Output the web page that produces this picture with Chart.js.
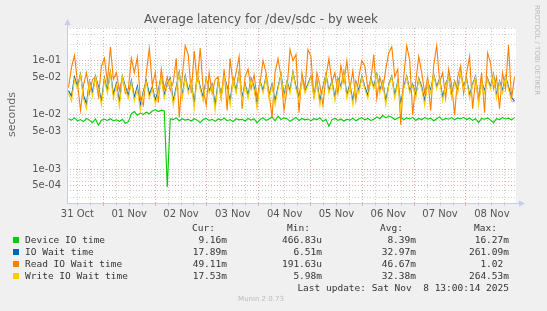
<!DOCTYPE html>
<html>
<head>
<meta charset="utf-8">
<script src="https://cdn.jsdelivr.net/npm/chart.js@4.4.0/dist/chart.umd.min.js"></script>
<style>
html, body { margin: 0; padding: 0; background: #f0f0f0; }
#wrap { position: relative; width: 547px; height: 311px; overflow: hidden; font-family: 'DejaVu Sans', sans-serif; }
#chart { position: absolute; left: 0; top: 0; }
.t { position: absolute; white-space: pre; }
.mono { font-family: 'DejaVu Sans Mono', monospace; font-size: 9.5px; color: #333; }
.sq { position: absolute; width: 6px; height: 6px; }
</style>
</head>
<body>
<div id="wrap">
  <canvas id="chart" width="547" height="311"></canvas>
  <div class="t" id="title" style="left:144px;top:12px;font-size:12px;color:#555;">Average latency for /dev/sdc - by week</div>
  <div class="t" style="left:5px;top:137px;font-size:11px;font-weight:normal;color:#666;transform-origin:0 0;transform:rotate(-90deg);">seconds</div>
  <div class="t" style="left:537px;top:5px;font-size:7px;color:#bbb;transform-origin:0 0;transform:translate(4px,0) rotate(90deg);">RRDTOOL / TOBI OETIKER</div>
  <div id="legend"></div>
  <div class="t" style="left:261px;top:295px;font-size:7px;color:#bbb;transform:translateX(-50%);">Munin 2.0.73</div>
</div>
<script>
// Day labels on the x axis
const dayLabels = ['31 Oct', '01 Nov', '02 Nov', '03 Nov', '04 Nov', '05 Nov', '06 Nov', '07 Nov', '08 Nov'];

// Series (seconds), one sample every ~83 minutes across the week
const deviceIO = [
    0.0085, 0.008, 0.0088, 0.0078, 0.0082, 0.0075, 0.0086, 0.008, 0.0072, 0.0084,
    0.0065, 0.008, 0.0083, 0.0079, 0.0085, 0.0078, 0.0081, 0.0076, 0.0083, 0.007,
    0.0075, 0.0105, 0.0115, 0.0098, 0.0108, 0.0102, 0.0112, 0.0105, 0.0118, 0.0125,
    0.0115, 0.0122, 0.0118, 0.00047, 0.0085, 0.0082, 0.0088, 0.0078, 0.0085, 0.008,
    0.0083, 0.0077, 0.0085, 0.008, 0.0072, 0.0082, 0.0086, 0.0079, 0.0083, 0.0076,
    0.0084, 0.008, 0.0087, 0.0078, 0.0082, 0.0075, 0.0085, 0.0081, 0.0083, 0.0077,
    0.0086, 0.008, 0.0085, 0.0071, 0.0082, 0.0088, 0.0079, 0.0084, 0.0092, 0.0078,
    0.0095, 0.0082, 0.0088, 0.0085, 0.0076, 0.0083, 0.009, 0.0079, 0.0086, 0.0081,
    0.0084, 0.0078, 0.0085, 0.0082, 0.0088, 0.0076, 0.0083, 0.0062, 0.0081, 0.0086,
    0.0079, 0.0084, 0.0077, 0.0083, 0.008, 0.0087, 0.0078, 0.0084, 0.0089, 0.0081,
    0.0086, 0.0079, 0.0083, 0.0092, 0.0085, 0.0098, 0.0088, 0.0095, 0.009, 0.0082,
    0.0087, 0.0093, 0.0081, 0.0088, 0.0084, 0.009, 0.0079, 0.0086, 0.0082, 0.0089,
    0.0083, 0.0087, 0.0078, 0.0085, 0.0092, 0.008, 0.0086, 0.0083, 0.0089, 0.0081,
    0.0088, 0.0084, 0.009, 0.0082, 0.0087, 0.0079, 0.0085, 0.0072, 0.0086, 0.0083,
    0.0088, 0.008, 0.0072, 0.0085, 0.0082, 0.0089, 0.0084, 0.0087, 0.0081, 0.0089
];
const ioWait = [
    0.028, 0.022, 0.05, 0.033, 0.057, 0.023, 0.016, 0.042, 0.026, 0.052,
    0.033, 0.018, 0.048, 0.028, 0.062, 0.024, 0.038, 0.017, 0.052, 0.033,
    0.023, 0.043, 0.021, 0.034, 0.015, 0.027, 0.043, 0.024, 0.033, 0.019,
    0.028, 0.053, 0.023, 0.037, 0.048, 0.018, 0.033, 0.062, 0.023, 0.053,
    0.028, 0.042, 0.016, 0.057, 0.033, 0.021, 0.047, 0.028, 0.037, 0.015,
    0.042, 0.023, 0.052, 0.033, 0.018, 0.047, 0.028, 0.062, 0.021, 0.037,
    0.023, 0.047, 0.033, 0.016, 0.042, 0.028, 0.052, 0.023, 0.037, 0.018,
    0.033, 0.057, 0.023, 0.042, 0.028, 0.062, 0.033, 0.021, 0.047, 0.028,
    0.037, 0.052, 0.023, 0.042, 0.018, 0.033, 0.057, 0.028, 0.042, 0.021,
    0.047, 0.033, 0.062, 0.023, 0.037, 0.018, 0.042, 0.028, 0.052, 0.033,
    0.023, 0.047, 0.033, 0.057, 0.028, 0.042, 0.018, 0.037, 0.052, 0.023,
    0.042, 0.016, 0.033, 0.052, 0.028, 0.037, 0.023, 0.047, 0.033, 0.018,
    0.042, 0.028, 0.057, 0.033, 0.047, 0.021, 0.037, 0.052, 0.023, 0.042,
    0.028, 0.062, 0.033, 0.047, 0.023, 0.037, 0.052, 0.018, 0.042, 0.028,
    0.047, 0.033, 0.057, 0.023, 0.042, 0.028, 0.052, 0.033, 0.021, 0.018
];
const readWait = [
    0.032, 0.075, 0.125, 0.04, 0.012, 0.035, 0.06, 0.025, 0.045, 0.05,
    0.022, 0.078, 0.11, 0.04, 0.18, 0.045, 0.06, 0.028, 0.05, 0.025,
    0.03, 0.11, 0.06, 0.115, 0.02, 0.015, 0.06, 0.17, 0.035, 0.06,
    0.017, 0.07, 0.03, 0.05, 0.028, 0.04, 0.11, 0.009, 0.05, 0.19,
    0.13, 0.025, 0.15, 0.04, 0.17, 0.03, 0.015, 0.06, 0.025, 0.045,
    0.05, 0.02, 0.07, 0.012, 0.11, 0.035, 0.06, 0.12, 0.013, 0.05,
    0.07, 0.03, 0.055, 0.02, 0.04, 0.1, 0.06, 0.025, 0.009, 0.06,
    0.11, 0.05, 0.012, 0.03, 0.16, 0.1, 0.13, 0.011, 0.06, 0.03,
    0.16, 0.12, 0.02, 0.06, 0.035, 0.015, 0.05, 0.11, 0.04, 0.06,
    0.025, 0.08, 0.04, 0.1, 0.03, 0.065, 0.018, 0.05, 0.1, 0.08,
    0.03, 0.045, 0.13, 0.02, 0.05, 0.03, 0.07, 0.14, 0.18, 0.05,
    0.07, 0.0065, 0.05, 0.19, 0.1, 0.01, 0.04, 0.12, 0.06, 0.025,
    0.05, 0.012, 0.08, 0.19, 0.04, 0.06, 0.02, 0.07, 0.035, 0.01,
    0.05, 0.08, 0.025, 0.06, 0.12, 0.013, 0.045, 0.02, 0.06, 0.011,
    0.14, 0.09, 0.03, 0.05, 0.013, 0.06, 0.03, 0.195, 0.02, 0.049
];
const writeWait = [
    0.025, 0.018, 0.045, 0.03, 0.055, 0.02, 0.013, 0.04, 0.022, 0.05,
    0.03, 0.015, 0.045, 0.025, 0.06, 0.02, 0.035, 0.014, 0.05, 0.03,
    0.02, 0.04, 0.018, 0.03, 0.012, 0.025, 0.04, 0.02, 0.03, 0.016,
    0.025, 0.05, 0.02, 0.035, 0.045, 0.015, 0.03, 0.06, 0.02, 0.05,
    0.025, 0.04, 0.013, 0.055, 0.03, 0.018, 0.045, 0.025, 0.035, 0.012,
    0.04, 0.02, 0.05, 0.03, 0.015, 0.045, 0.025, 0.06, 0.018, 0.035,
    0.02, 0.045, 0.03, 0.013, 0.04, 0.025, 0.05, 0.02, 0.035, 0.015,
    0.03, 0.055, 0.02, 0.04, 0.025, 0.06, 0.03, 0.018, 0.045, 0.025,
    0.035, 0.05, 0.02, 0.04, 0.015, 0.03, 0.055, 0.025, 0.04, 0.018,
    0.045, 0.03, 0.06, 0.02, 0.035, 0.015, 0.04, 0.025, 0.05, 0.03,
    0.02, 0.045, 0.03, 0.055, 0.025, 0.04, 0.015, 0.035, 0.05, 0.02,
    0.04, 0.013, 0.03, 0.05, 0.025, 0.035, 0.02, 0.045, 0.03, 0.015,
    0.04, 0.025, 0.055, 0.03, 0.045, 0.018, 0.035, 0.05, 0.02, 0.04,
    0.025, 0.06, 0.03, 0.045, 0.02, 0.035, 0.05, 0.015, 0.04, 0.025,
    0.045, 0.03, 0.055, 0.02, 0.04, 0.025, 0.05, 0.03, 0.018, 0.0175
];

// Legend table
const legendNames = ['Device IO time', 'IO Wait time', 'Read IO Wait time', 'Write IO Wait time'];
const legendColors = ['#00cc00', '#0066b3', '#ff8000', '#ffcc00'];
const curVals = ['9.16m', '17.89m', '49.11m', '17.53m'];
const minVals = ['466.83u', '6.51m', '191.63u', '5.98m'];
const avgVals = ['8.39m', '32.97m', '46.67m', '32.38m'];
const maxVals = ['16.27m', '261.09m', '1.02 ', '264.53m'];

// Time axis in days from the left edge
const spanDays = 8.666;
const firstMidnight = 0.7006;
const stepDays = spanDays / deviceIO.length;

function toPoints(arr) {
    return arr.map((v, i) => ({ x: (i + 0.5) * stepDays, y: v }));
}

const gridGray = '#d2d2d2';
const gridRed = '#eaa8a8';
const axisColor = '#c8cce8';

function expLabel(v) {
    return v.toExponential(0).replace(/e([+-])(\d)$/, 'e$10$2');
}

const axisArrows = {
    id: 'axisArrows',
    afterDraw(chart) {
        const { ctx, chartArea: a } = chart;
        ctx.save();
        ctx.strokeStyle = axisColor;
        ctx.fillStyle = axisColor;
        ctx.lineWidth = 1;
        ctx.beginPath();
        ctx.moveTo(a.left + 0.5, a.bottom + 0.5);
        ctx.lineTo(a.left + 0.5, a.top - 4);
        ctx.moveTo(a.left, a.bottom + 0.5);
        ctx.lineTo(a.right + 4, a.bottom + 0.5);
        ctx.stroke();
        ctx.beginPath();
        ctx.moveTo(a.left + 0.5, a.top - 9);
        ctx.lineTo(a.left - 2.5, a.top - 3);
        ctx.lineTo(a.left + 3.5, a.top - 3);
        ctx.closePath();
        ctx.fill();
        ctx.beginPath();
        ctx.moveTo(a.right + 9, a.bottom + 0.5);
        ctx.lineTo(a.right + 3, a.bottom - 2.5);
        ctx.lineTo(a.right + 3, a.bottom + 3.5);
        ctx.closePath();
        ctx.fill();
        ctx.restore();
    }
};

const plotBg = {
    id: 'plotBg',
    beforeDraw(chart) {
        const { ctx, chartArea: a } = chart;
        ctx.save();
        ctx.fillStyle = '#ffffff';
        ctx.fillRect(a.left, a.top, a.right - a.left, a.bottom - a.top);
        ctx.restore();
    }
};

const ctx = document.getElementById('chart').getContext('2d');
new Chart(ctx, {
    type: 'line',
    data: {
        datasets: [
            { label: legendNames[0], data: toPoints(deviceIO), borderColor: legendColors[0], order: 4 },
            { label: legendNames[1], data: toPoints(ioWait), borderColor: legendColors[1], order: 3 },
            { label: legendNames[2], data: toPoints(readWait), borderColor: legendColors[2], order: 2 },
            { label: legendNames[3], data: toPoints(writeWait), borderColor: legendColors[3], order: 1 }
        ]
    },
    options: {
        responsive: false,
        animation: false,
        events: [],
        elements: {
            line: { borderWidth: 1.1, tension: 0 },
            point: { radius: 0 }
        },
        layout: { padding: { top: 28, right: 31, bottom: 0, left: 0 } },
        plugins: {
            legend: { display: false },
            tooltip: { enabled: false }
        },
        scales: {
            x: {
                type: 'linear',
                min: 0,
                max: spanDays,
                afterBuildTicks(scale) {
                    const ticks = [];
                    for (let k = 0; k < 40; k++) {
                        const v = firstMidnight - 0.5 + k * 0.25;
                        if (v > 0 && v < spanDays) ticks.push({ value: v, major: (k % 4 === 2) });
                    }
                    scale.ticks = ticks;
                },
                afterFit(scale) { scale.height = 108; },
                border: { display: false, dash: [1, 2] },
                grid: {
                    color: c => (c.tick && c.tick.major ? gridRed : gridGray),
                    tickColor: c => (c.tick && c.tick.major ? gridRed : gridGray),
                    tickLength: 3
                },
                ticks: {
                    autoSkip: false,
                    maxRotation: 0,
                    padding: 2,
                    color: '#555',
                    font: { family: 'DejaVu Sans', size: 10 },
                    callback: (v) => {
                        const k = Math.round((v - (firstMidnight - 0.5)) * 4);
                        return k % 4 === 0 ? dayLabels[k / 4] : '';
                    }
                }
            },
            y: {
                type: 'logarithmic',
                min: 2.37e-4,
                max: 0.4,
                afterBuildTicks(scale) {
                    const ticks = [];
                    for (let d = -4; d <= -1; d++) {
                        for (let m = 1; m <= 9; m++) {
                            const v = m * Math.pow(10, d);
                            if (v >= 2.37e-4 && v <= 0.4) ticks.push({ value: v, major: (m === 1 || m === 5) });
                        }
                    }
                    scale.ticks = ticks;
                },
                afterFit(scale) { scale.width = 67; },
                border: { display: false, dash: [1, 2] },
                grid: {
                    color: c => (c.tick && c.tick.major ? gridRed : gridGray),
                    drawTicks: false
                },
                ticks: {
                    autoSkip: false,
                    padding: 6,
                    color: '#555',
                    font: { family: 'DejaVu Sans', size: 10 },
                    callback: (v) => {
                        const m = Math.round(v / Math.pow(10, Math.floor(Math.log10(v) + 1e-9)));
                        return (m === 1 || m === 5) ? expLabel(v) : '';
                    }
                }
            }
        }
    },
    plugins: [plotBg, axisArrows]
});

// Legend below the plot
const legend = document.getElementById('legend');
function addText(text, right, top, cls) {
    const d = document.createElement('div');
    d.className = 't ' + (cls || 'mono');
    d.style.right = (547 - right) + 'px';
    d.style.top = top + 'px';
    d.textContent = text;
    legend.appendChild(d);
}
const colRight = [227, 322, 416, 509];
const headRight = [215, 310, 403, 497];
['Cur:', 'Min:', 'Avg:', 'Max:'].forEach((h, j) => addText(h, headRight[j], 222));
legendNames.forEach((name, i) => {
    const top = 234 + i * 12;
    const sq = document.createElement('div');
    sq.className = 'sq';
    sq.style.left = '13px';
    sq.style.top = (top + 3) + 'px';
    sq.style.background = legendColors[i];
    legend.appendChild(sq);
    const n = document.createElement('div');
    n.className = 't mono';
    n.style.left = '25px';
    n.style.top = top + 'px';
    n.textContent = name;
    legend.appendChild(n);
    [curVals, minVals, avgVals, maxVals].forEach((col, j) => addText(col[i], colRight[j], top));
});
addText('Last update: Sat Nov  8 13:00:14 2025', 509, 282);
</script>
</body>
</html>
